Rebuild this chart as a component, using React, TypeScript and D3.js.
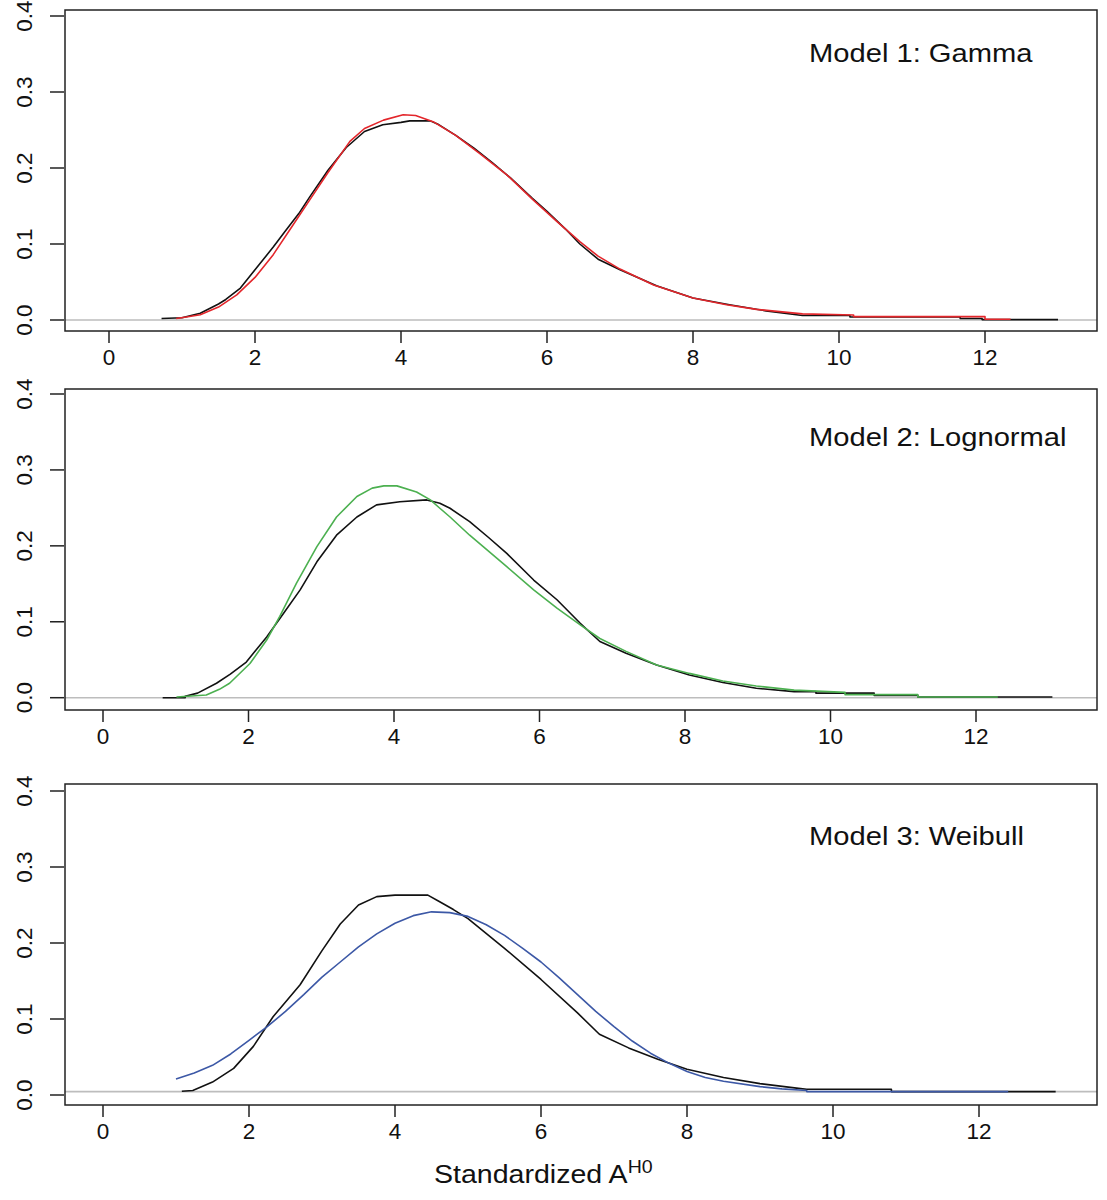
import * as d3 from "d3";

// [x, density] pairs
const empiricalA: [number, number][] = [
  [0.72, 0.002], [1.0, 0.003], [1.25, 0.009], [1.5, 0.021], [1.6, 0.027], [1.8, 0.042],
  [2.0, 0.066], [2.25, 0.096], [2.4, 0.115], [2.6, 0.14], [2.75, 0.162], [3.0, 0.197],
  [3.25, 0.227], [3.5, 0.248], [3.75, 0.257], [4.0, 0.26], [4.12, 0.262], [4.4, 0.262],
  [4.5, 0.258], [4.75, 0.243], [5.0, 0.226], [5.25, 0.207], [5.5, 0.187], [5.8, 0.16],
  [6.0, 0.143], [6.25, 0.12], [6.45, 0.1], [6.7, 0.08], [7.0, 0.066], [7.5, 0.045],
  [8.0, 0.029], [8.5, 0.02], [9.0, 0.012], [9.5, 0.006], [10.15, 0.006], [10.15, 0.004],
  [11.66, 0.004], [11.66, 0.002], [11.96, 0.002], [11.96, 0.0005], [13.0, 0.0005],
];

const gammaFit: [number, number][] = [
  [0.92, 0.002], [1.06, 0.004], [1.25, 0.007], [1.5, 0.017], [1.75, 0.033], [2.0, 0.056],
  [2.25, 0.086], [2.5, 0.122], [2.75, 0.158], [3.0, 0.194], [3.3, 0.235], [3.5, 0.252],
  [3.76, 0.263], [4.03, 0.27], [4.2, 0.269], [4.44, 0.261], [4.75, 0.243], [5.08, 0.219],
  [5.45, 0.191], [5.81, 0.158], [6.13, 0.13], [6.45, 0.103], [6.7, 0.084], [7.0, 0.067],
  [7.46, 0.046], [8.0, 0.029], [8.46, 0.02], [8.87, 0.014], [9.5, 0.008], [10.2, 0.0065],
  [10.2, 0.0045], [12.0, 0.0045], [12.0, 0.001], [12.35, 0.001],
];

const empiricalB: [number, number][] = [
  [0.82, 0], [1.13, 0], [1.13, 0.002], [1.3, 0.006], [1.56, 0.019], [1.75, 0.031],
  [1.97, 0.047], [2.25, 0.08], [2.48, 0.111], [2.71, 0.142], [2.94, 0.179], [3.21, 0.214],
  [3.49, 0.238], [3.76, 0.254], [4.08, 0.258], [4.45, 0.2605], [4.63, 0.256], [4.77, 0.2495],
  [5.04, 0.232], [5.3, 0.211], [5.55, 0.19], [5.92, 0.155], [6.24, 0.129], [6.56, 0.098],
  [6.83, 0.074], [7.19, 0.0585], [7.61, 0.043], [8.06, 0.03], [8.52, 0.02], [8.98, 0.0124],
  [9.5, 0.008], [9.8, 0.008], [9.8, 0.006], [10.6, 0.006], [10.6, 0.003], [11.2, 0.003],
  [11.2, 0.001], [13.05, 0.001],
];

const lognormalFit: [number, number][] = [
  [1.01, 0.001], [1.42, 0.0035], [1.6, 0.011], [1.74, 0.019], [2.02, 0.045], [2.25, 0.076],
  [2.43, 0.107], [2.66, 0.151], [2.94, 0.199], [3.21, 0.238], [3.49, 0.265], [3.7, 0.276],
  [3.86, 0.279], [4.04, 0.279], [4.31, 0.271], [4.5, 0.2605], [4.63, 0.2495], [4.77, 0.238],
  [5.04, 0.214], [5.55, 0.1726], [5.92, 0.142], [6.24, 0.118], [6.56, 0.096], [6.83, 0.078],
  [7.19, 0.061], [7.61, 0.043], [8.06, 0.032], [8.52, 0.022], [8.98, 0.0154], [9.5, 0.01],
  [10.2, 0.007], [10.2, 0.004], [11.2, 0.004], [11.2, 0.001], [12.3, 0.001],
];

const empiricalC: [number, number][] = [
  [1.08, 0.005], [1.23, 0.006], [1.5, 0.017], [1.79, 0.035], [2.06, 0.064], [2.33, 0.103],
  [2.7, 0.145], [3.0, 0.19], [3.25, 0.225], [3.5, 0.25], [3.75, 0.261], [4.0, 0.263],
  [4.45, 0.263], [4.6, 0.255], [4.8, 0.244], [5.0, 0.232], [5.5, 0.193], [6.0, 0.152],
  [6.5, 0.108], [6.8, 0.08], [7.2, 0.062], [7.6, 0.047], [8.0, 0.034], [8.5, 0.023],
  [9.0, 0.015], [9.5, 0.009], [9.64, 0.0075], [10.8, 0.0075], [10.8, 0.0045], [13.05, 0.0045],
];

const weibullFit: [number, number][] = [
  [1.0, 0.021], [1.25, 0.029], [1.5, 0.039], [1.75, 0.054], [2.0, 0.072], [2.25, 0.09],
  [2.5, 0.11], [2.75, 0.132], [3.0, 0.155], [3.25, 0.175], [3.5, 0.195], [3.75, 0.212],
  [4.0, 0.226], [4.25, 0.236], [4.5, 0.241], [4.75, 0.24], [5.0, 0.235], [5.25, 0.224],
  [5.5, 0.21], [5.75, 0.193], [6.0, 0.175], [6.25, 0.154], [6.5, 0.132], [6.75, 0.11],
  [7.0, 0.09], [7.25, 0.071], [7.5, 0.055], [7.75, 0.042], [8.0, 0.031], [8.25, 0.023],
  [8.5, 0.018], [9.0, 0.011], [9.3, 0.008], [9.64, 0.006], [9.64, 0.0045], [12.4, 0.0045],
];

const xTicks = [0, 2, 4, 6, 8, 10, 12];
const yTicks = [0, 0.1, 0.2, 0.3, 0.4];
const titles = ["Model 1: Gamma", "Model 2: Lognormal", "Model 3: Weibull"];
const baselines = [0, 0, 0.0045];

const panels = [
  { top: 10, bottom: 331, x0: 109, x12: 985, y0: 320, y4: 16, titleY: 62, emp: empiricalA, fit: gammaFit, color: "#e3262b" },
  { top: 389, bottom: 710, x0: 103, x12: 976, y0: 697.7, y4: 394, titleY: 446, emp: empiricalB, fit: lognormalFit, color: "#4cb050" },
  { top: 784, bottom: 1105, x0: 103, x12: 979, y0: 1095, y4: 791, titleY: 845, emp: empiricalC, fit: weibullFit, color: "#3c58a6" },
];

const LEFT = 65;
const RIGHT = 1097;
const FONT = "'Liberation Sans', Arial, Helvetica, sans-serif";

export default function App() {
  return (
    <svg
      width={1107}
      height={1200}
      style={{ position: "absolute", left: 0, top: 0, background: "#fff" }}
      fontFamily={FONT}
    >
      {panels.map((p, i) => {
        const x = d3.scaleLinear().domain([0, 12]).range([p.x0, p.x12]);
        const y = d3.scaleLinear().domain([0, 0.4]).range([p.y0, p.y4]);
        const line = d3
          .line<[number, number]>()
          .x((d) => x(d[0]))
          .y((d) => y(d[1]));
        return (
          <g key={i}>
            <line x1={LEFT} x2={RIGHT} y1={y(baselines[i])} y2={y(baselines[i])} stroke="#bdbdbd" strokeWidth={1.6} />
            <path d={line(p.emp) ?? ""} fill="none" stroke="#111" strokeWidth={1.6} strokeLinejoin="round" />
            <path d={line(p.fit) ?? ""} fill="none" stroke={p.color} strokeWidth={1.6} strokeLinejoin="round" />
            <rect x={LEFT} y={p.top} width={RIGHT - LEFT} height={p.bottom - p.top} fill="none" stroke="#222" strokeWidth={1.5} />
            {yTicks.map((t) => (
              <g key={`y${t}`}>
                <line x1={50} x2={64} y1={y(t)} y2={y(t)} stroke="#222" strokeWidth={1.5} />
                <text
                  transform={`translate(32,${y(t)}) rotate(-90)`}
                  textAnchor="middle"
                  fontSize={22.5}
                  fill="#111"
                >
                  {t.toFixed(1)}
                </text>
              </g>
            ))}
            {xTicks.map((t) => (
              <g key={`x${t}`}>
                <line x1={x(t)} x2={x(t)} y1={p.bottom} y2={p.bottom + 12} stroke="#222" strokeWidth={1.5} />
                <text x={x(t)} y={p.bottom + 34} textAnchor="middle" fontSize={22.5} fill="#111">
                  {t}
                </text>
              </g>
            ))}
            <text transform={`translate(809,${p.titleY}) scale(1.1,1)`} fontSize={26.5} fill="#111">
              {titles[i]}
            </text>
          </g>
        );
      })}
      <text transform="translate(434,1183) scale(1.12,1)" fontSize={25.5} fill="#111">
        Standardized A
        <tspan fontSize={17.5} dy={-10}>H0</tspan>
      </text>
    </svg>
  );
}
